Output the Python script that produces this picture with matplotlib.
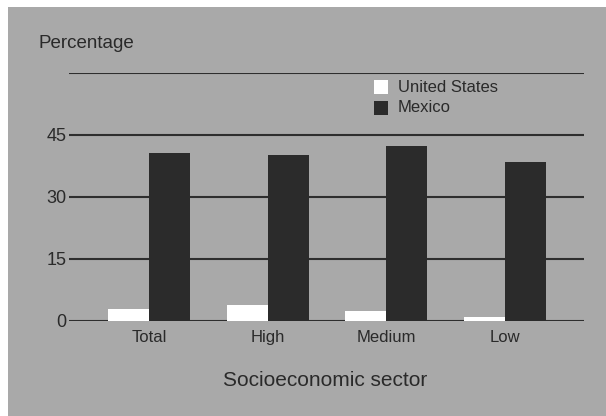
import matplotlib
matplotlib.use("Agg")
import matplotlib.pyplot as plt
import matplotlib.patches as mpatches
import numpy as np

categories = ["Total", "High", "Medium", "Low"]
us_values = [2.8, 3.9, 2.4, 0.9]
mexico_values = [40.5, 40.1, 42.3, 38.5]
ytick_values = [0, 15, 30, 45, 60]
ytick_labels = ["0", "15", "30", "45", ""]
series_names = ["United States", "Mexico"]

plt.rcParams['font.family'] = ['Liberation Sans', 'DejaVu Sans']
BG = "#a9a9a9"
DARK = "#2b2b2b"
TEXT = "#2a2a2a"

fig = plt.figure(figsize=(6.06, 4.16), dpi=100, facecolor="white")
# gray panel with thin white margin on left/top
fig.patches.append(mpatches.Rectangle((8/606, 0), 1 - 8/606, 1 - 7/416,
                                      transform=fig.transFigure, facecolor=BG,
                                      edgecolor="none", zorder=-5))

ax = fig.add_axes([69/606, 1 - 320.7/416, (584 - 69)/606, (320.7 - 72.7)/416])
ax.set_facecolor("none")
ax.set_zorder(1)

x = np.arange(len(categories))
w = 0.345
ax.bar(x - w/2, us_values, width=w, color="white", edgecolor="none", zorder=3)
ax.bar(x + w/2, mexico_values, width=w, color=DARK, edgecolor="none", zorder=3)

ax.set_xlim(-0.674, 3.666)
ax.set_ylim(0, 60)
ax.set_yticks(ytick_values)
ax.set_yticklabels(ytick_labels)
ax.yaxis.grid(True, color="#2e2e2e", linewidth=1.5)
ax.set_axisbelow(True)
for s in ax.spines.values():
    s.set_visible(False)
ax.tick_params(axis="y", length=0, pad=2, labelsize=13, labelcolor=TEXT)
ax.set_xticks(x)
ax.set_xticklabels(categories)
ax.tick_params(axis="x", length=0, pad=7, labelsize=12, labelcolor=TEXT)

fig.text(38/606, 1 - 43/416, "Percentage", fontsize=13.5, color=TEXT,
         ha="left", va="center")
fig.text(325/606, 1 - 381/416, "Socioeconomic sector", fontsize=15,
         color=TEXT, ha="center", va="center")

# legend
sq_w, sq_h = 14/606, 14/416
fig.patches.append(mpatches.Rectangle((374/606, 1 - 93.5/416), sq_w, sq_h,
                                      transform=fig.transFigure, facecolor="white",
                                      edgecolor="none", zorder=2))
fig.patches.append(mpatches.Rectangle((374/606, 1 - 114.5/416), sq_w, sq_h,
                                      transform=fig.transFigure, facecolor=DARK,
                                      edgecolor="none", zorder=2))
fig.text(398/606, 1 - 87/416, series_names[0], fontsize=12, color=TEXT,
         ha="left", va="center")
fig.text(398/606, 1 - 108/416, series_names[1], fontsize=12, color=TEXT,
         ha="left", va="center")

fig.savefig("out.png", dpi=100, facecolor="white")
